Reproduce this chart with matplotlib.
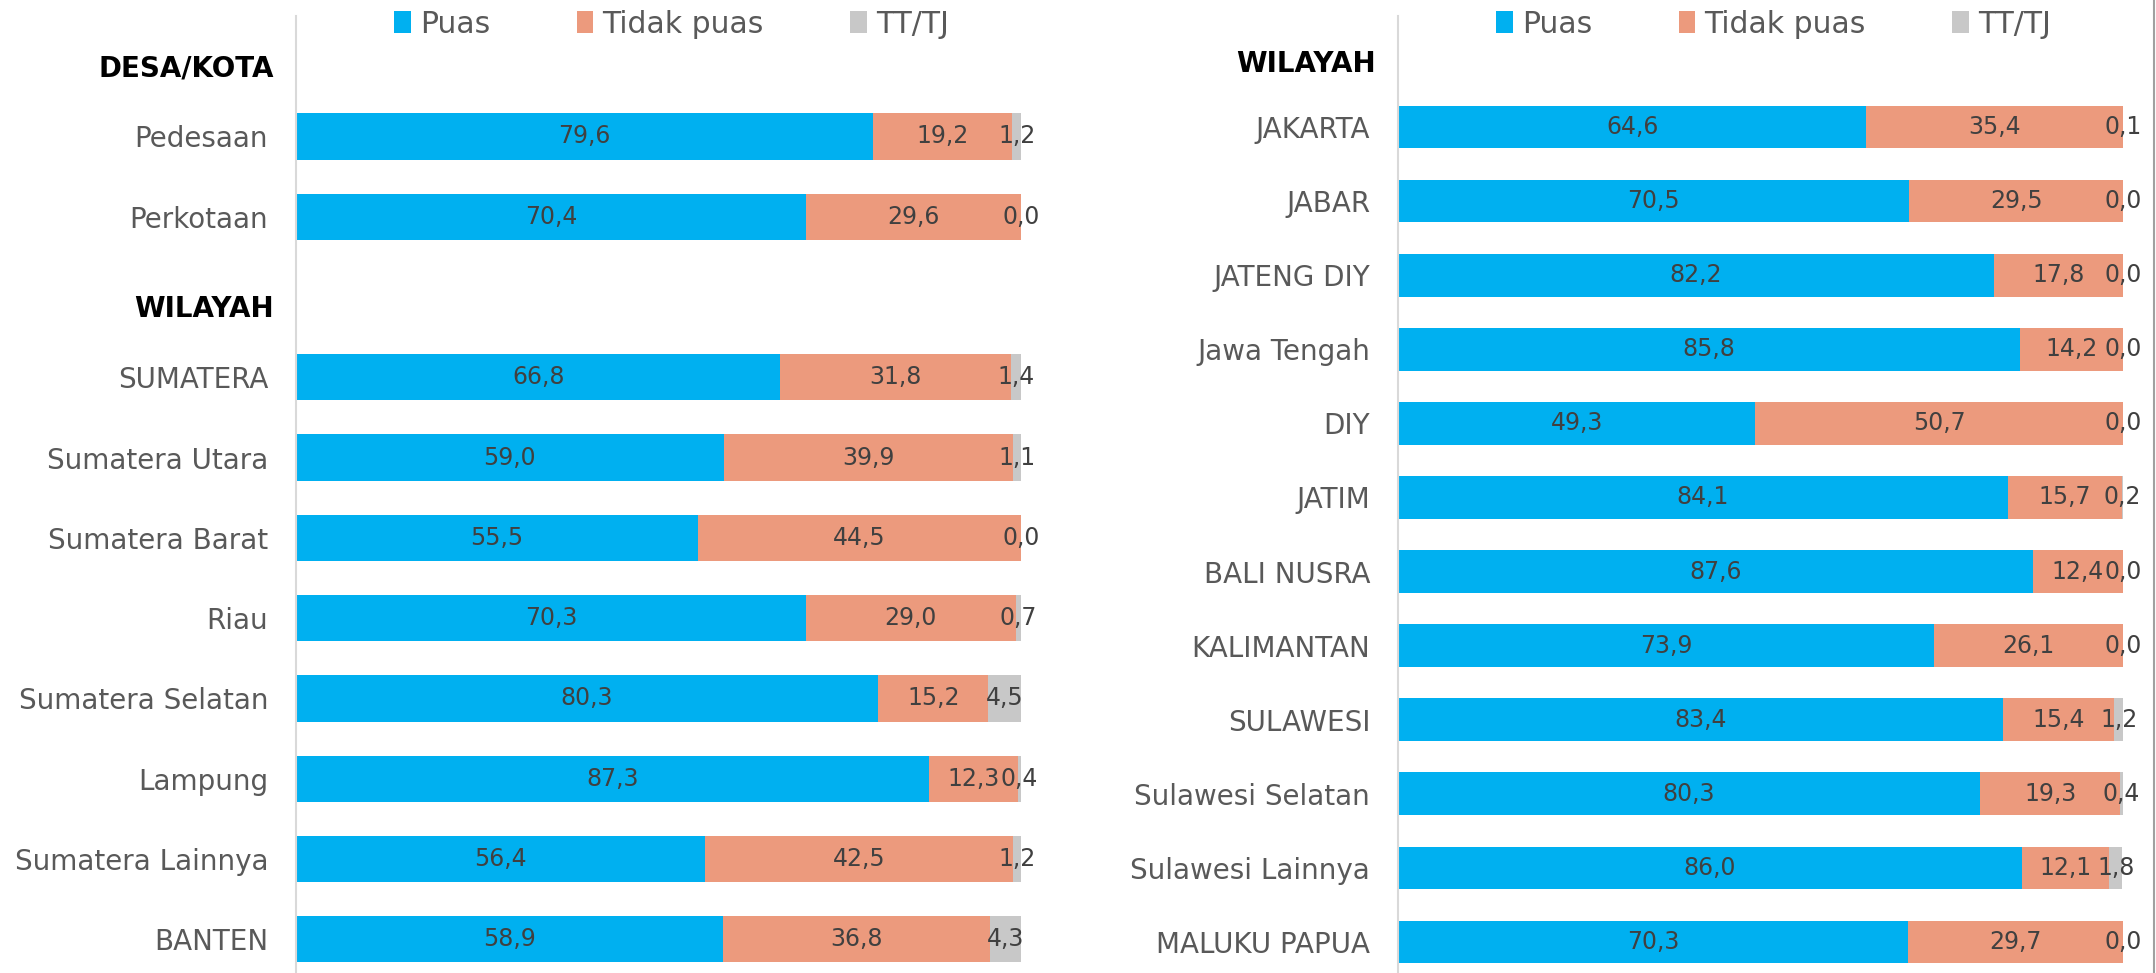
import matplotlib.pyplot as plt
from matplotlib.lines import Line2D
from matplotlib.transforms import blended_transform_factory

plt.rcParams['font.family'] = ['DejaVu Sans']

series = ['Puas', 'Tidak puas', 'TT/TJ']
colors = ['#00B0F0', '#EC9A7D', '#C8C8C8']

# panel kiri
left_headers = ['DESA/KOTA', 'WILAYAH']
left_groups = [
    ['Pedesaan', 'Perkotaan'],
    ['SUMATERA', 'Sumatera Utara', 'Sumatera Barat', 'Riau',
     'Sumatera Selatan', 'Lampung', 'Sumatera Lainnya', 'BANTEN'],
]
left_puas = [79.6, 70.4, 66.8, 59.0, 55.5, 70.3, 80.3, 87.3, 56.4, 58.9]
left_tidak = [19.2, 29.6, 31.8, 39.9, 44.5, 29.0, 15.2, 12.3, 42.5, 36.8]
left_tttj = [1.2, 0.0, 1.4, 1.1, 0.0, 0.7, 4.5, 0.4, 1.2, 4.3]

# panel kanan
right_headers = ['WILAYAH']
right_groups = [
    ['JAKARTA', 'JABAR', 'JATENG DIY', 'Jawa Tengah', 'DIY', 'JATIM',
     'BALI NUSRA', 'KALIMANTAN', 'SULAWESI', 'Sulawesi Selatan',
     'Sulawesi Lainnya', 'MALUKU PAPUA'],
]
right_puas = [64.6, 70.5, 82.2, 85.8, 49.3, 84.1, 87.6, 73.9, 83.4, 80.3, 86.0, 70.3]
right_tidak = [35.4, 29.5, 17.8, 14.2, 50.7, 15.7, 12.4, 26.1, 15.4, 19.3, 12.1, 29.7]
right_tttj = [0.1, 0.0, 0.0, 0.0, 0.0, 0.2, 0.0, 0.0, 1.2, 0.4, 1.8, 0.0]


def fmt(v):
    return f'{v:.1f}'.replace('.', ',')


def draw_panel(ax, headers, groups, puas, tidak, tttj):
    # header mengambil satu baris, lalu kategori di bawahnya
    ypos, names, head_pos = [], [], []
    slot = 0
    for h, g in zip(headers, groups):
        head_pos.append(slot + 0.15)
        for c in g:
            slot += 1
            ypos.append(slot)
            names.append(c)
        slot += 1
    last = ypos[-1]

    left = [0] * len(ypos)
    for vals, col, lab in zip([puas, tidak, tttj], colors, series):
        bars = ax.barh(ypos, vals, left=left, height=0.575, color=col, label=lab)
        ax.bar_label(bars, labels=[fmt(v) for v in vals], label_type='center',
                     fontsize=17, color='#404040')
        left = [a + b for a, b in zip(left, vals)]

    ax.set_xlim(0, 100)
    ax.set_ylim(last + 0.42, -0.5)
    ax.set_yticks(ypos)
    ax.set_yticklabels(names)
    ax.tick_params(axis='y', length=0, pad=20, labelsize=20, labelcolor='#595959')
    ax.set_xticks([])
    for s in ['top', 'right', 'bottom']:
        ax.spines[s].set_visible(False)
    ax.spines['left'].set_color('#D9D9D9')
    ax.spines['left'].set_linewidth(1.5)

    tr = blended_transform_factory(ax.transAxes, ax.transData)
    for h, y in zip(headers, head_pos):
        ax.annotate(h, xy=(0, y), xycoords=tr, xytext=(-16, 0),
                    textcoords='offset points', ha='right', va='center',
                    fontsize=20, fontweight='bold', color='black')

    ax.legend(loc='center', bbox_to_anchor=(0.518, 0.9916), ncol=3, frameon=False,
              fontsize=21.5, labelcolor='#595959', handlelength=0.56,
              handleheight=0.77, handletextpad=0.3, columnspacing=2.9,
              borderpad=0, borderaxespad=0)


fig = plt.figure(figsize=(21.56, 9.73), dpi=100)
ax1 = fig.add_axes([296 / 2156, 0, 725 / 2156, 957 / 973])
ax2 = fig.add_axes([1398 / 2156, 0, 725 / 2156, 957 / 973])

draw_panel(ax1, left_headers, left_groups, left_puas, left_tidak, left_tttj)
draw_panel(ax2, right_headers, right_groups, right_puas, right_tidak, right_tttj)

fig.add_artist(Line2D([0.9992, 0.9992], [0, 1], color='#A0A0A0', lw=1.5,
                      transform=fig.transFigure))

fig.savefig('out.png', dpi=100)
